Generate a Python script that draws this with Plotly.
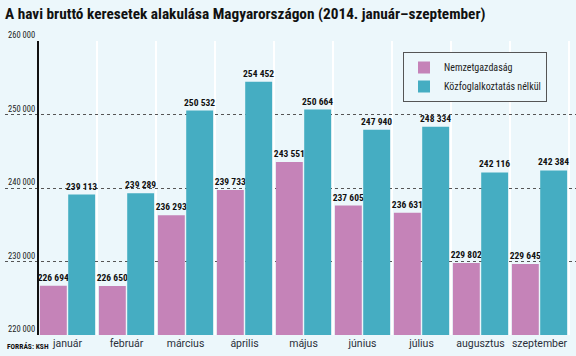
import plotly.graph_objects as go

months = ["január", "február", "március", "április", "május", "június", "július", "augusztus", "szeptember"]
nemzet = [226694, 226650, 236293, 239733, 243551, 237605, 236631, 229802, 229645]
kozfog = [239113, 239289, 250532, 254452, 250664, 247940, 248334, 242116, 242384]
series_names = ["Nemzetgazdaság", "Közfoglalkoztatás nélkül"]
y_ticks = [220000, 230000, 240000, 250000, 260000]
y_ticktext = ["220 000", "230 000", "240 000", "250 000", "260 000"]

def fmt(v):
    return f"{v:,}".replace(",", " ")

BG = "#ecf7fb"
PINK = "#c583b8"
TEAL = "#45adc2"
COND = "Roboto Condensed, Liberation Sans Narrow, sans-serif"
TEXTF = "Roboto, Noto Sans, sans-serif"

W, H = 576, 356
L, R, T, B = 5, 0, 41, 21
pw = W - L - R
ph = H - T - B
cat_w = 59.0
left_px = 33.0

fig = go.Figure()
for name, vals, col in [(series_names[0], nemzet, PINK), (series_names[1], kozfog, TEAL)]:
    fig.add_trace(go.Bar(
        x=months, y=vals, name=name, marker_color=col, marker_line_width=0,
        text=[fmt(v) for v in vals], textposition="outside", constraintext="none",
        textfont=dict(family=COND, size=9.5, color="#111", weight="bold"),
        cliponaxis=False,
    ))

fig.add_trace(go.Scatter(x=[months[0]], y=[None], yaxis="y2", showlegend=False,
                         hoverinfo="skip", mode="markers"))

fig.update_layout(
    width=W, height=H,
    margin=dict(l=L, r=R, t=T, b=B, autoexpand=False),
    paper_bgcolor=BG, plot_bgcolor=BG,
    barmode="group", bargap=0.04, bargroupgap=0.05,
    title=dict(text="<b>A havi bruttó keresetek alakulása Magyarországon (2014. január–szeptember)</b>",
               x=5 / W, xref="container", xanchor="left",
               y=1 - 14 / H, yref="container", yanchor="middle",
               font=dict(family=COND, size=15.3, color="#111")),
    xaxis=dict(
        range=[-0.5 - left_px / cat_w, -0.5 + (pw - left_px) / cat_w],
        tickson="boundaries", showgrid=True, gridcolor="white", gridwidth=2,
        ticks="", ticklen=0, showline=False, zeroline=False, tickangle=0,
        automargin=False,
        tickfont=dict(family=TEXTF, size=10.5, color="#2a2f3a"),
    ),
    yaxis=dict(
        range=[220000, 260000], tickvals=y_ticks, ticktext=y_ticktext,
        ticklabelposition="inside top", ticklabeloverflow="allow", ticks="",
        showgrid=True, gridcolor="#555", griddash="dot", gridwidth=1,
        zeroline=False, showline=False, layer="above traces", automargin=False,
        tickfont=dict(family=COND, size=8.5, color="#222"),
    ),
    yaxis2=dict(
        overlaying="y", anchor="free", position=left_px / pw, side="left",
        range=[220000, 260000], showline=True, linecolor="#111", linewidth=2,
        showgrid=False, showticklabels=False, ticks="", zeroline=False,
        automargin=False,
    ),
    legend=dict(
        x=(403 - L) / pw, y=1 - (52 - T) / ph, xanchor="left", yanchor="top",
        bgcolor=BG, bordercolor="#555", borderwidth=1,
        font=dict(family=COND, size=10, color="#222"),
        itemwidth=30, tracegroupgap=2,
    ),
    showlegend=True,
)

fig.add_annotation(text="<b>FORRÁS: KSH</b>", xref="paper", yref="paper",
                   x=0, y=-11 / ph, xanchor="left", yanchor="middle",
                   showarrow=False, font=dict(family=COND, size=7.5, color="#111"))

fig.write_html("out.html", config={"displayModeBar": False},
               post_script="document.body.style.margin='0';")
